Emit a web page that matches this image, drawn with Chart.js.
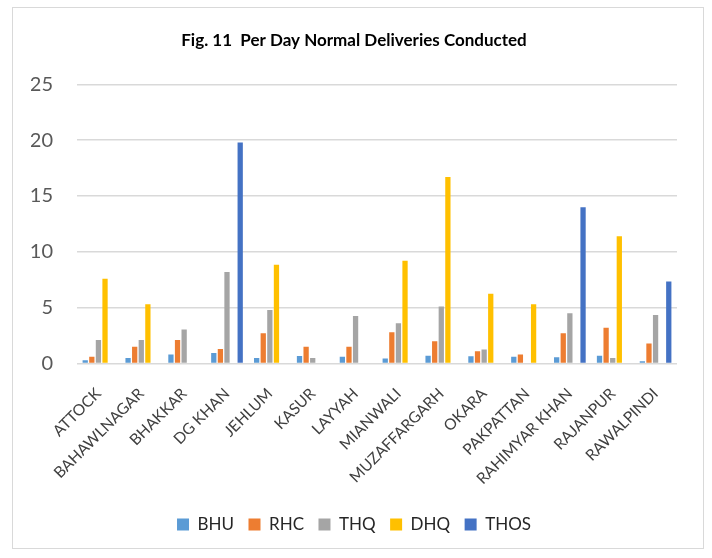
<!DOCTYPE html>
<html>
<head>
<meta charset="utf-8">
<script src="https://cdn.jsdelivr.net/npm/chart.js@4/dist/chart.umd.min.js"></script>
<style>
  html, body { margin: 0; padding: 0; background: #ffffff; }
  #wrap { position: relative; width: 712px; height: 558px; }
  #frame { position: absolute; left: 12px; top: 7px; width: 692px; height: 542px; border: 1px solid #d9d9d9; box-sizing: border-box; }
  canvas { position: absolute; left: 0; top: 0; }
</style>
</head>
<body>
<div id="wrap">
  <div id="frame"></div>
  <canvas id="c" width="712" height="558"></canvas>
</div>
<script>
const categories = ["ATTOCK", "BAHAWLNAGAR", "BHAKKAR", "DG KHAN", "JEHLUM", "KASUR", "LAYYAH", "MIANWALI", "MUZAFFARGARH", "OKARA", "PAKPATTAN", "RAHIMYAR KHAN", "RAJANPUR", "RAWALPINDI"];
const bhu  = [0.3, 0.5, 0.8, 0.95, 0.5, 0.68, 0.6, 0.44, 0.7, 0.65, 0.6, 0.55, 0.7, 0.2];
const rhc  = [0.6, 1.5, 2.1, 1.3, 2.7, 1.5, 1.5, 2.8, 2.0, 1.1, 0.8, 2.7, 3.2, 1.8];
const thq  = [2.1, 2.1, 3.05, 8.2, 4.8, 0.5, 4.25, 3.6, 5.1, 1.25, null, 4.5, 0.5, 4.35];
const dhq  = [7.6, 5.3, null, null, 8.85, null, null, 9.2, 16.7, 6.25, 5.3, null, 11.4, null];
const thos = [null, null, null, 19.8, null, null, null, null, null, null, null, 14.0, null, 7.35];
const seriesNames = ["BHU", "RHC", "THQ", "DHQ", "THOS"];
const yTicks = [0, 5, 10, 15, 20, 25];
const titleText = "Fig. 11  Per Day Normal Deliveries Conducted";

const colors = ["#5B9BD5", "#ED7D31", "#A5A5A5", "#FFC000", "#4472C4"];
const seriesData = [bhu, rhc, thq, dhq, thos];
const FONT = "Lato, 'Open Sans', sans-serif";

new Chart(document.getElementById('c'), {
  type: 'bar',
  data: {
    labels: categories,
    datasets: seriesNames.map((n, i) => ({
      label: n,
      data: seriesData[i],
      backgroundColor: colors[i],
      borderWidth: 0,
      categoryPercentage: 0.77,
      barPercentage: 0.8
    }))
  },
  options: {
    responsive: false,
    animation: false,
    layout: { padding: { left: 31, right: 35, top: 27, bottom: 15 } },
    plugins: {
      title: {
        display: true,
        text: titleText,
        color: '#000000',
        font: { family: FONT, size: 17, weight: 'bold' },
        padding: { top: 3, bottom: 34 }
      },
      legend: {
        position: 'bottom',
        labels: {
          boxWidth: 12, boxHeight: 12,
          color: '#262626',
          font: { family: FONT, size: 17 },
          padding: 14.5
        }
      },
      tooltip: { enabled: false }
    },
    scales: {
      x: {
        grid: { display: false },
        border: { display: false },
        ticks: {
          color: '#404040',
          font: { family: FONT, size: 15.5 },
          minRotation: 45, maxRotation: 45,
          autoSkip: false,
          padding: 13
        },
        afterFit: (s) => { s.height = 138; }
      },
      y: {
        min: 0, max: 25,
        afterBuildTicks: (s) => { s.ticks = yTicks.map(v => ({ value: v })); },
        grid: { color: '#d9d9d9', lineWidth: 1.5, drawTicks: false },
        border: { display: false },
        ticks: {
          color: '#595959',
          font: { family: FONT, size: 20 },
          padding: 24
        },
        afterFit: (s) => { s.width = 46; }
      }
    }
  }
});
</script>
</body>
</html>
